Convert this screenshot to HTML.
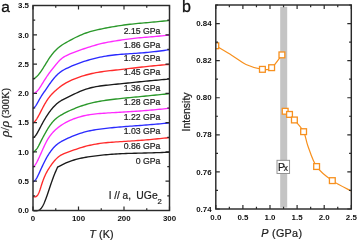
<!DOCTYPE html>
<html><head><meta charset="utf-8"><style>
html,body{margin:0;padding:0;background:#fff;width:357px;height:241px;overflow:hidden}
svg{display:block;will-change:transform}
</style></head><body>
<svg width="357" height="241" viewBox="0 0 357 241">
<path d="M33,210.64 L33.5,210.69 L34,210.73 L34.5,210.77 L35,210.79 L35.5,210.81 L36,210.8 L36.5,210.78 L37,210.74 L37.5,210.66 L38,210.56 L38.5,210.4 L39,210.19 L39.5,209.9 L40,209.53 L40.5,209.08 L41,208.55 L41.5,207.93 L42,207.21 L42.5,206.41 L43,205.52 L43.5,204.54 L44,203.47 L44.5,202.33 L45,201.11 L45.5,199.83 L46,198.49 L46.5,197.1 L47,195.68 L47.5,194.22 L48,192.75 L48.5,191.26 L49,189.77 L49.5,188.27 L50,186.78 L50.5,185.3 L51,183.83 L51.5,182.38 L52,180.96 L52.5,179.56 L53,178.19 L53.5,176.86 L54,175.56 L54.5,174.3 L55,173.07 L55.5,171.87 L56,170.7 L56.5,169.54 L57,168.41 L57.5,167.28 L57.6,167.06 L57.6,167.17 L58.1,166.9 L58.6,166.63 L59.1,166.36 L59.6,166.09 L60.1,165.82 L60.6,165.56 L61.1,165.3 L61.6,165.04 L62,164.84 L64,163.86 L66,162.94 L68,162.09 L70,161.32 L72,160.63 L74,160 L76,159.44 L78,158.92 L80,158.45 L82,158.02 L84,157.63 L86,157.26 L88,156.93 L90,156.62 L92,156.33 L94,156.06 L96,155.81 L98,155.57 L100,155.34 L102,155.13 L104,154.94 L106,154.75 L108,154.58 L110,154.42 L112,154.27 L114,154.13 L116,154 L118,153.89 L120,153.78 L122,153.69 L124,153.6 L126,153.52 L128,153.45 L130,153.39 L132,153.33 L134,153.28 L136,153.22 L138,153.17 L140,153.13 L142,153.08 L144,153.03 L146,152.98 L148,152.92 L150,152.86 L152,152.81 L154,152.74 L156,152.68 L158,152.62 L160,152.55 L162,152.49 L164,152.42 L166,152.35 L168,152.28 L169.5,152.23" stroke="#1a1a1a" stroke-width="1.35" fill="none" stroke-linejoin="round"/>
<path d="M33,196.51 L33.5,196.64 L34,196.76 L34.5,196.83 L35,196.85 L35.5,196.78 L36,196.61 L36.5,196.31 L37,195.87 L37.5,195.27 L38,194.5 L38.5,193.56 L39,192.46 L39.5,191.2 L40,189.79 L40.5,188.26 L41,186.67 L41.5,185.07 L42,183.51 L42.5,182.03 L43,180.62 L43.5,179.28 L44,178.01 L44.5,176.81 L45,175.67 L45.5,174.59 L46,173.56 L46.5,172.58 L47,171.65 L47.5,170.76 L48,169.9 L48.5,169.07 L49,168.27 L49.5,167.5 L50,166.75 L50.5,166.02 L51,165.3 L51.5,164.6 L52,163.91 L52.5,163.25 L53,162.59 L53.5,161.96 L54,161.35 L54.5,160.75 L55,160.18 L55.5,159.63 L56,159.11 L56.5,158.61 L57,158.13 L57.5,157.67 L58,157.23 L58.5,156.82 L59,156.43 L59.5,156.06 L60,155.71 L60.5,155.39 L61,155.08 L61.5,154.79 L62,154.52 L64,153.58 L66,152.82 L68,152.12 L70,151.42 L72,150.7 L74,149.98 L76,149.28 L78,148.6 L80,147.95 L82,147.33 L84,146.74 L86,146.2 L88,145.69 L90,145.23 L92,144.8 L94,144.41 L96,144.05 L98,143.73 L100,143.44 L102,143.18 L104,142.94 L106,142.73 L108,142.54 L110,142.37 L112,142.21 L114,142.06 L116,141.93 L118,141.8 L120,141.67 L122,141.55 L124,141.43 L126,141.31 L128,141.18 L130,141.06 L132,140.93 L134,140.8 L136,140.67 L138,140.53 L140,140.39 L142,140.24 L144,140.08 L146,139.91 L148,139.74 L150,139.56 L152,139.38 L154,139.19 L156,138.99 L158,138.79 L160,138.59 L162,138.38 L164,138.17 L166,137.96 L168,137.75 L169.5,137.59" stroke="#ff2a2a" stroke-width="1.35" fill="none" stroke-linejoin="round"/>
<path d="M33,181.9 L33.5,181.59 L34,181.26 L34.5,180.87 L35,180.42 L35.5,179.87 L36,179.19 L36.5,178.41 L37,177.54 L37.5,176.58 L38,175.57 L38.5,174.52 L39,173.44 L39.5,172.35 L40,171.24 L40.5,170.14 L41,169.05 L41.5,167.97 L42,166.9 L42.5,165.85 L43,164.81 L43.5,163.77 L44,162.75 L44.5,161.74 L45,160.75 L45.5,159.78 L46,158.84 L46.5,157.92 L47,157.03 L47.5,156.17 L48,155.33 L48.5,154.53 L49,153.75 L49.5,152.99 L50,152.27 L50.5,151.56 L51,150.88 L51.5,150.23 L52,149.59 L52.5,148.98 L53,148.39 L53.5,147.82 L54,147.28 L54.5,146.75 L55,146.25 L55.5,145.77 L56,145.31 L56.5,144.87 L57,144.45 L57.5,144.05 L58,143.67 L58.5,143.31 L59,142.97 L59.5,142.63 L60,142.32 L60.5,142.01 L61,141.72 L61.5,141.44 L62,141.16 L64,140.12 L66,139.13 L68,138.2 L70,137.29 L72,136.43 L74,135.6 L76,134.82 L78,134.09 L80,133.41 L82,132.78 L84,132.21 L86,131.69 L88,131.21 L90,130.78 L92,130.39 L94,130.03 L96,129.7 L98,129.39 L100,129.11 L102,128.85 L104,128.6 L106,128.36 L108,128.13 L110,127.91 L112,127.71 L114,127.51 L116,127.32 L118,127.14 L120,126.97 L122,126.8 L124,126.64 L126,126.49 L128,126.34 L130,126.19 L132,126.05 L134,125.9 L136,125.76 L138,125.62 L140,125.47 L142,125.33 L144,125.17 L146,125.02 L148,124.86 L150,124.69 L152,124.53 L154,124.35 L156,124.18 L158,124 L160,123.82 L162,123.64 L164,123.45 L166,123.27 L168,123.08 L169.5,122.94" stroke="#2a2aff" stroke-width="1.35" fill="none" stroke-linejoin="round"/>
<path d="M33,167.25 L33.5,166.76 L34,166.25 L34.5,165.7 L35,165.07 L35.5,164.36 L36,163.58 L36.5,162.72 L37,161.81 L37.5,160.85 L38,159.84 L38.5,158.81 L39,157.75 L39.5,156.67 L40,155.57 L40.5,154.46 L41,153.35 L41.5,152.22 L42,151.09 L42.5,149.97 L43,148.84 L43.5,147.73 L44,146.63 L44.5,145.55 L45,144.5 L45.5,143.49 L46,142.5 L46.5,141.55 L47,140.64 L47.5,139.77 L48,138.94 L48.5,138.14 L49,137.38 L49.5,136.65 L50,135.95 L50.5,135.28 L51,134.63 L51.5,134.01 L52,133.41 L52.5,132.84 L53,132.29 L53.5,131.76 L54,131.24 L54.5,130.74 L55,130.26 L55.5,129.8 L56,129.34 L56.5,128.9 L57,128.47 L57.5,128.06 L58,127.65 L58.5,127.26 L59,126.87 L59.5,126.5 L60,126.13 L60.5,125.77 L61,125.42 L61.5,125.08 L62,124.75 L64,123.49 L66,122.35 L68,121.31 L70,120.37 L72,119.52 L74,118.74 L76,118.02 L78,117.37 L80,116.78 L82,116.24 L84,115.76 L86,115.34 L88,114.96 L90,114.64 L92,114.35 L94,114.1 L96,113.88 L98,113.69 L100,113.52 L102,113.36 L104,113.22 L106,113.08 L108,112.95 L110,112.82 L112,112.7 L114,112.58 L116,112.46 L118,112.35 L120,112.23 L122,112.12 L124,112 L126,111.89 L128,111.77 L130,111.65 L132,111.52 L134,111.4 L136,111.27 L138,111.13 L140,110.99 L142,110.84 L144,110.69 L146,110.53 L148,110.36 L150,110.19 L152,110.01 L154,109.83 L156,109.64 L158,109.45 L160,109.25 L162,109.06 L164,108.86 L166,108.65 L168,108.45 L169.5,108.3" stroke="#ff2aff" stroke-width="1.35" fill="none" stroke-linejoin="round"/>
<path d="M33,152.46 L33.5,152.08 L34,151.69 L34.5,151.27 L35,150.83 L35.5,150.35 L36,149.81 L36.5,149.21 L37,148.54 L37.5,147.78 L38,146.95 L38.5,146.05 L39,145.1 L39.5,144.12 L40,143.11 L40.5,142.11 L41,141.11 L41.5,140.13 L42,139.17 L42.5,138.22 L43,137.28 L43.5,136.35 L44,135.43 L44.5,134.52 L45,133.61 L45.5,132.71 L46,131.83 L46.5,130.95 L47,130.1 L47.5,129.26 L48,128.45 L48.5,127.66 L49,126.89 L49.5,126.14 L50,125.42 L50.5,124.72 L51,124.05 L51.5,123.4 L52,122.78 L52.5,122.18 L53,121.6 L53.5,121.05 L54,120.52 L54.5,120.02 L55,119.54 L55.5,119.08 L56,118.64 L56.5,118.22 L57,117.82 L57.5,117.44 L58,117.07 L58.5,116.72 L59,116.39 L59.5,116.06 L60,115.74 L60.5,115.44 L61,115.13 L61.5,114.84 L62,114.55 L64,113.45 L66,112.42 L68,111.44 L70,110.51 L72,109.62 L74,108.76 L76,107.95 L78,107.18 L80,106.45 L82,105.76 L84,105.11 L86,104.51 L88,103.94 L90,103.41 L92,102.92 L94,102.46 L96,102.03 L98,101.63 L100,101.26 L102,100.91 L104,100.59 L106,100.29 L108,100.01 L110,99.74 L112,99.49 L114,99.25 L116,99.02 L118,98.8 L120,98.59 L122,98.38 L124,98.17 L126,97.97 L128,97.77 L130,97.58 L132,97.38 L134,97.19 L136,97 L138,96.8 L140,96.61 L142,96.42 L144,96.22 L146,96.03 L148,95.83 L150,95.64 L152,95.44 L154,95.24 L156,95.04 L158,94.83 L160,94.63 L162,94.43 L164,94.22 L166,94.02 L168,93.81 L169.5,93.66" stroke="#2a982a" stroke-width="1.35" fill="none" stroke-linejoin="round"/>
<path d="M33,137.91 L33.5,137.54 L34,137.15 L34.5,136.72 L35,136.23 L35.5,135.67 L36,135.02 L36.5,134.28 L37,133.48 L37.5,132.61 L38,131.7 L38.5,130.77 L39,129.82 L39.5,128.87 L40,127.91 L40.5,126.96 L41,126.01 L41.5,125.06 L42,124.13 L42.5,123.2 L43,122.29 L43.5,121.4 L44,120.53 L44.5,119.67 L45,118.83 L45.5,118.01 L46,117.2 L46.5,116.4 L47,115.63 L47.5,114.86 L48,114.11 L48.5,113.38 L49,112.66 L49.5,111.96 L50,111.28 L50.5,110.61 L51,109.96 L51.5,109.33 L52,108.72 L52.5,108.12 L53,107.54 L53.5,106.99 L54,106.45 L54.5,105.92 L55,105.42 L55.5,104.93 L56,104.47 L56.5,104.02 L57,103.58 L57.5,103.17 L58,102.77 L58.5,102.39 L59,102.03 L59.5,101.68 L60,101.34 L60.5,101.02 L61,100.71 L61.5,100.41 L62,100.12 L64,99.04 L66,98.05 L68,97.09 L70,96.12 L72,95.15 L74,94.19 L76,93.24 L78,92.32 L80,91.44 L82,90.61 L84,89.85 L86,89.16 L88,88.54 L90,87.99 L92,87.5 L94,87.06 L96,86.68 L98,86.35 L100,86.04 L102,85.77 L104,85.52 L106,85.28 L108,85.05 L110,84.84 L112,84.63 L114,84.43 L116,84.24 L118,84.04 L120,83.84 L122,83.64 L124,83.44 L126,83.24 L128,83.03 L130,82.82 L132,82.61 L134,82.41 L136,82.2 L138,81.99 L140,81.78 L142,81.58 L144,81.38 L146,81.18 L148,80.99 L150,80.79 L152,80.6 L154,80.42 L156,80.23 L158,80.05 L160,79.86 L162,79.68 L164,79.5 L166,79.32 L168,79.14 L169.5,79.01" stroke="#1a1a1a" stroke-width="1.35" fill="none" stroke-linejoin="round"/>
<path d="M33,123.24 L33.5,122.79 L34,122.33 L34.5,121.84 L35,121.3 L35.5,120.69 L36,120.03 L36.5,119.3 L37,118.52 L37.5,117.7 L38,116.84 L38.5,115.94 L39,115.02 L39.5,114.07 L40,113.11 L40.5,112.14 L41,111.16 L41.5,110.17 L42,109.19 L42.5,108.22 L43,107.27 L43.5,106.33 L44,105.42 L44.5,104.52 L45,103.65 L45.5,102.8 L46,101.98 L46.5,101.18 L47,100.4 L47.5,99.65 L48,98.93 L48.5,98.23 L49,97.56 L49.5,96.91 L50,96.29 L50.5,95.69 L51,95.11 L51.5,94.55 L52,94.02 L52.5,93.5 L53,92.99 L53.5,92.5 L54,92.02 L54.5,91.56 L55,91.1 L55.5,90.65 L56,90.2 L56.5,89.76 L57,89.33 L57.5,88.9 L58,88.48 L58.5,88.06 L59,87.66 L59.5,87.26 L60,86.87 L60.5,86.49 L61,86.12 L61.5,85.76 L62,85.41 L64,84.12 L66,82.95 L68,81.89 L70,80.9 L72,79.98 L74,79.12 L76,78.32 L78,77.56 L80,76.86 L82,76.2 L84,75.59 L86,75.02 L88,74.49 L90,73.99 L92,73.53 L94,73.1 L96,72.71 L98,72.35 L100,72.02 L102,71.71 L104,71.43 L106,71.16 L108,70.92 L110,70.68 L112,70.46 L114,70.24 L116,70.02 L118,69.81 L120,69.59 L122,69.37 L124,69.14 L126,68.91 L128,68.68 L130,68.44 L132,68.21 L134,67.97 L136,67.73 L138,67.5 L140,67.27 L142,67.04 L144,66.82 L146,66.6 L148,66.39 L150,66.18 L152,65.98 L154,65.79 L156,65.6 L158,65.41 L160,65.22 L162,65.04 L164,64.86 L166,64.68 L168,64.5 L169.5,64.37" stroke="#ff2a2a" stroke-width="1.35" fill="none" stroke-linejoin="round"/>
<path d="M33,108.61 L33.5,108.17 L34,107.72 L34.5,107.23 L35,106.68 L35.5,106.07 L36,105.37 L36.5,104.6 L37,103.76 L37.5,102.88 L38,101.97 L38.5,101.06 L39,100.14 L39.5,99.26 L40,98.4 L40.5,97.57 L41,96.76 L41.5,95.97 L42,95.19 L42.5,94.44 L43,93.69 L43.5,92.96 L44,92.23 L44.5,91.5 L45,90.78 L45.5,90.05 L46,89.32 L46.5,88.58 L47,87.85 L47.5,87.11 L48,86.38 L48.5,85.65 L49,84.93 L49.5,84.21 L50,83.5 L50.5,82.8 L51,82.11 L51.5,81.44 L52,80.77 L52.5,80.12 L53,79.48 L53.5,78.86 L54,78.25 L54.5,77.66 L55,77.09 L55.5,76.54 L56,76 L56.5,75.48 L57,74.98 L57.5,74.5 L58,74.03 L58.5,73.58 L59,73.15 L59.5,72.74 L60,72.34 L60.5,71.96 L61,71.6 L61.5,71.26 L62,70.92 L64,69.73 L66,68.7 L68,67.77 L70,66.86 L72,65.99 L74,65.14 L76,64.33 L78,63.56 L80,62.82 L82,62.13 L84,61.47 L86,60.84 L88,60.24 L90,59.67 L92,59.13 L94,58.61 L96,58.11 L98,57.65 L100,57.21 L102,56.8 L104,56.42 L106,56.07 L108,55.75 L110,55.46 L112,55.21 L114,54.98 L116,54.77 L118,54.58 L120,54.41 L122,54.25 L124,54.1 L126,53.96 L128,53.83 L130,53.7 L132,53.57 L134,53.44 L136,53.31 L138,53.17 L140,53.03 L142,52.87 L144,52.71 L146,52.53 L148,52.34 L150,52.14 L152,51.92 L154,51.7 L156,51.46 L158,51.22 L160,50.97 L162,50.72 L164,50.46 L166,50.19 L168,49.93 L169.5,49.73" stroke="#2a2aff" stroke-width="1.35" fill="none" stroke-linejoin="round"/>
<path d="M33,93.84 L33.5,93.58 L34,93.31 L34.5,93.03 L35,92.73 L35.5,92.41 L36,92.05 L36.5,91.64 L37,91.2 L37.5,90.7 L38,90.13 L38.5,89.52 L39,88.85 L39.5,88.14 L40,87.4 L40.5,86.63 L41,85.83 L41.5,85.02 L42,84.2 L42.5,83.38 L43,82.56 L43.5,81.74 L44,80.92 L44.5,80.12 L45,79.32 L45.5,78.53 L46,77.76 L46.5,77 L47,76.25 L47.5,75.52 L48,74.81 L48.5,74.11 L49,73.42 L49.5,72.74 L50,72.07 L50.5,71.41 L51,70.76 L51.5,70.12 L52,69.49 L52.5,68.86 L53,68.23 L53.5,67.6 L54,66.98 L54.5,66.36 L55,65.74 L55.5,65.12 L56,64.51 L56.5,63.91 L57,63.31 L57.5,62.72 L58,62.15 L58.5,61.6 L59,61.06 L59.5,60.54 L60,60.05 L60.5,59.58 L61,59.14 L61.5,58.72 L62,58.32 L64,56.92 L66,55.77 L68,54.79 L70,53.91 L72,53.08 L74,52.31 L76,51.56 L78,50.84 L80,50.13 L82,49.43 L84,48.74 L86,48.07 L88,47.41 L90,46.77 L92,46.15 L94,45.55 L96,44.98 L98,44.43 L100,43.92 L102,43.44 L104,42.99 L106,42.57 L108,42.18 L110,41.81 L112,41.47 L114,41.14 L116,40.82 L118,40.52 L120,40.22 L122,39.92 L124,39.63 L126,39.35 L128,39.08 L130,38.82 L132,38.58 L134,38.35 L136,38.14 L138,37.94 L140,37.76 L142,37.59 L144,37.43 L146,37.27 L148,37.11 L150,36.95 L152,36.78 L154,36.6 L156,36.42 L158,36.23 L160,36.04 L162,35.84 L164,35.65 L166,35.44 L168,35.24 L169.5,35.09" stroke="#ff2aff" stroke-width="1.35" fill="none" stroke-linejoin="round"/>
<path d="M33,79.18 L33.5,78.88 L34,78.57 L34.5,78.25 L35,77.91 L35.5,77.54 L36,77.15 L36.5,76.72 L37,76.25 L37.5,75.74 L38,75.2 L38.5,74.63 L39,74.03 L39.5,73.39 L40,72.73 L40.5,72.04 L41,71.32 L41.5,70.59 L42,69.84 L42.5,69.08 L43,68.3 L43.5,67.51 L44,66.72 L44.5,65.91 L45,65.1 L45.5,64.29 L46,63.47 L46.5,62.66 L47,61.85 L47.5,61.05 L48,60.25 L48.5,59.47 L49,58.7 L49.5,57.95 L50,57.21 L50.5,56.5 L51,55.81 L51.5,55.14 L52,54.48 L52.5,53.85 L53,53.23 L53.5,52.63 L54,52.06 L54.5,51.5 L55,50.95 L55.5,50.43 L56,49.93 L56.5,49.44 L57,48.97 L57.5,48.51 L58,48.07 L58.5,47.65 L59,47.24 L59.5,46.84 L60,46.46 L60.5,46.08 L61,45.72 L61.5,45.38 L62,45.04 L64,43.77 L66,42.6 L68,41.49 L70,40.39 L72,39.31 L74,38.26 L76,37.25 L78,36.28 L80,35.37 L82,34.52 L84,33.73 L86,33 L88,32.33 L90,31.71 L92,31.13 L94,30.6 L96,30.11 L98,29.65 L100,29.22 L102,28.81 L104,28.4 L106,28.01 L108,27.63 L110,27.27 L112,26.91 L114,26.57 L116,26.23 L118,25.92 L120,25.61 L122,25.32 L124,25.04 L126,24.78 L128,24.52 L130,24.28 L132,24.05 L134,23.84 L136,23.63 L138,23.43 L140,23.25 L142,23.07 L144,22.9 L146,22.72 L148,22.55 L150,22.38 L152,22.2 L154,22.01 L156,21.82 L158,21.62 L160,21.42 L162,21.22 L164,21.01 L166,20.81 L168,20.6 L169.5,20.44" stroke="#2a982a" stroke-width="1.35" fill="none" stroke-linejoin="round"/>
<rect x="33" y="5.5" width="136.5" height="205" fill="none" stroke="#2a2a2a" stroke-width="1.45"/>
<path d="M33,210.5 h4 M169.5,210.5 h-4 M33,195.86 h2.2 M169.5,195.86 h-2.2 M33,181.21 h4 M169.5,181.21 h-4 M33,166.57 h2.2 M169.5,166.57 h-2.2 M33,151.93 h4 M169.5,151.93 h-4 M33,137.29 h2.2 M169.5,137.29 h-2.2 M33,122.64 h4 M169.5,122.64 h-4 M33,108 h2.2 M169.5,108 h-2.2 M33,93.36 h4 M169.5,93.36 h-4 M33,78.71 h2.2 M169.5,78.71 h-2.2 M33,64.07 h4 M169.5,64.07 h-4 M33,49.43 h2.2 M169.5,49.43 h-2.2 M33,34.79 h4 M169.5,34.79 h-4 M33,20.14 h2.2 M169.5,20.14 h-2.2 M33,5.5 h4 M169.5,5.5 h-4 M33,210.5 v-4 M33,5.5 v4 M55.75,210.5 v-2.2 M55.75,5.5 v2.2 M78.5,210.5 v-4 M78.5,5.5 v4 M101.25,210.5 v-2.2 M101.25,5.5 v2.2 M124,210.5 v-4 M124,5.5 v4 M146.75,210.5 v-2.2 M146.75,5.5 v2.2 M169.5,210.5 v-4 M169.5,5.5 v4" stroke="#2a2a2a" stroke-width="1.2" fill="none"/>
<text transform="translate(29,213.25) scale(0.98,1)" text-anchor="end" font-family="Liberation Sans" font-weight="bold" font-size="8.1" fill="#111">0.0</text>
<text transform="translate(29,183.96) scale(0.98,1)" text-anchor="end" font-family="Liberation Sans" font-weight="bold" font-size="8.1" fill="#111">0.5</text>
<text transform="translate(29,154.68) scale(0.98,1)" text-anchor="end" font-family="Liberation Sans" font-weight="bold" font-size="8.1" fill="#111">1.0</text>
<text transform="translate(29,125.39) scale(0.98,1)" text-anchor="end" font-family="Liberation Sans" font-weight="bold" font-size="8.1" fill="#111">1.5</text>
<text transform="translate(29,96.11) scale(0.98,1)" text-anchor="end" font-family="Liberation Sans" font-weight="bold" font-size="8.1" fill="#111">2.0</text>
<text transform="translate(29,66.82) scale(0.98,1)" text-anchor="end" font-family="Liberation Sans" font-weight="bold" font-size="8.1" fill="#111">2.5</text>
<text transform="translate(29,37.54) scale(0.98,1)" text-anchor="end" font-family="Liberation Sans" font-weight="bold" font-size="8.1" fill="#111">3.0</text>
<text transform="translate(29,8.25) scale(0.98,1)" text-anchor="end" font-family="Liberation Sans" font-weight="bold" font-size="8.1" fill="#111">3.5</text>
<text transform="translate(33,221.3) scale(0.98,1)" text-anchor="middle" font-family="Liberation Sans" font-weight="bold" font-size="8.1" fill="#111">0</text>
<text transform="translate(78.5,221.3) scale(0.98,1)" text-anchor="middle" font-family="Liberation Sans" font-weight="bold" font-size="8.1" fill="#111">100</text>
<text transform="translate(124,221.3) scale(0.98,1)" text-anchor="middle" font-family="Liberation Sans" font-weight="bold" font-size="8.1" fill="#111">200</text>
<text transform="translate(169.5,221.3) scale(0.98,1)" text-anchor="middle" font-family="Liberation Sans" font-weight="bold" font-size="8.1" fill="#111">300</text>
<text x="160.4" y="164" text-anchor="end" font-family="Liberation Sans" font-size="8.7" fill="#1e1e1e" stroke="#1e1e1e" stroke-width="0.22">0 GPa</text>
<text x="160.4" y="148.6" text-anchor="end" font-family="Liberation Sans" font-size="8.7" fill="#1e1e1e" stroke="#1e1e1e" stroke-width="0.22">0.86 GPa</text>
<text x="160.4" y="133.8" text-anchor="end" font-family="Liberation Sans" font-size="8.7" fill="#1e1e1e" stroke="#1e1e1e" stroke-width="0.22">1.03 GPa</text>
<text x="160.4" y="119.5" text-anchor="end" font-family="Liberation Sans" font-size="8.7" fill="#1e1e1e" stroke="#1e1e1e" stroke-width="0.22">1.22 GPa</text>
<text x="160.4" y="104.6" text-anchor="end" font-family="Liberation Sans" font-size="8.7" fill="#1e1e1e" stroke="#1e1e1e" stroke-width="0.22">1.28 GPa</text>
<text x="160.4" y="91" text-anchor="end" font-family="Liberation Sans" font-size="8.7" fill="#1e1e1e" stroke="#1e1e1e" stroke-width="0.22">1.36 GPa</text>
<text x="160.4" y="74.8" text-anchor="end" font-family="Liberation Sans" font-size="8.7" fill="#1e1e1e" stroke="#1e1e1e" stroke-width="0.22">1.45 GPa</text>
<text x="160.4" y="60.7" text-anchor="end" font-family="Liberation Sans" font-size="8.7" fill="#1e1e1e" stroke="#1e1e1e" stroke-width="0.22">1.62 GPa</text>
<text x="160.4" y="47.5" text-anchor="end" font-family="Liberation Sans" font-size="8.7" fill="#1e1e1e" stroke="#1e1e1e" stroke-width="0.22">1.86 GPa</text>
<text x="160.4" y="33.6" text-anchor="end" font-family="Liberation Sans" font-size="8.7" fill="#1e1e1e" stroke="#1e1e1e" stroke-width="0.22">2.15 GPa</text>
<text x="108.7" y="199.3" font-family="Liberation Sans" font-size="10" fill="#1e1e1e" stroke="#1e1e1e" stroke-width="0.22">I // a,</text>
<text x="136.3" y="199.4" font-family="Liberation Sans" font-size="10.4" fill="#1e1e1e" stroke="#1e1e1e" stroke-width="0.22">UGe</text>
<text x="157.4" y="203.6" font-family="Liberation Sans" font-size="7.6" fill="#1e1e1e" stroke="#1e1e1e" stroke-width="0.22">2</text>
<text x="1.2" y="11.6" font-family="Liberation Sans" font-size="15.5" fill="#111" stroke="#111" stroke-width="0.3">a</text>
<text x="89.3" y="238" font-family="Liberation Sans" font-size="10.8" fill="#1e1e1e" stroke="#1e1e1e" stroke-width="0.22" letter-spacing="0.1"><tspan font-style="italic">T</tspan> (K)</text>
<text transform="translate(8.8,137) rotate(-90)" font-family="Liberation Serif" font-size="10.4" fill="#1e1e1e" stroke="#1e1e1e" stroke-width="0.22"><tspan font-style="italic" font-size="13.5">&#961;</tspan><tspan font-size="12">/</tspan><tspan font-style="italic" font-size="13.5">&#961;</tspan> (300K)</text>
<rect x="280.2" y="6.8" width="7" height="200.8" fill="#c4c4c4"/>
<clipPath id="rc"><rect x="215.8" y="5" width="135.5" height="204"/></clipPath>
<g clip-path="url(#rc)">
<path d="M215.8,45.8 C218.5,47.42 226.97,52.38 232,55.5 C237.03,58.62 240.93,62.19 246,64.5 C251.07,66.81 258.14,68.82 262.41,69.35 C266.68,69.88 268.37,70.09 271.63,67.68 C274.88,65.27 280.21,57.02 281.92,54.89" stroke="#f7901e" stroke-width="1.2" fill="none"/>
<path d="M285.18,111.27 C285.9,111.79 287.98,112.97 289.51,114.42 C291.05,115.87 292.04,117.11 294.39,119.98 C296.74,122.86 301.35,127.33 303.6,131.67 C305.86,136 305.73,140.19 307.9,146 C310.07,151.81 312.54,160.76 316.61,166.53 C320.68,172.3 326.55,176.55 332.33,180.63 C338.11,184.71 348.14,189.28 351.3,191.01" stroke="#f7901e" stroke-width="1.2" fill="none"/>
<rect x="212.9" y="42.9" width="5.8" height="5.8" fill="#fff" stroke="#f7901e" stroke-width="1.3"/>
<rect x="259.51" y="66.45" width="5.8" height="5.8" fill="#fff" stroke="#f7901e" stroke-width="1.3"/>
<rect x="268.73" y="64.78" width="5.8" height="5.8" fill="#fff" stroke="#f7901e" stroke-width="1.3"/>
<rect x="279.02" y="51.99" width="5.8" height="5.8" fill="#fff" stroke="#f7901e" stroke-width="1.3"/>
<rect x="282.28" y="108.37" width="5.8" height="5.8" fill="#fff" stroke="#f7901e" stroke-width="1.3"/>
<rect x="286.61" y="111.52" width="5.8" height="5.8" fill="#fff" stroke="#f7901e" stroke-width="1.3"/>
<rect x="291.49" y="117.08" width="5.8" height="5.8" fill="#fff" stroke="#f7901e" stroke-width="1.3"/>
<rect x="300.7" y="128.77" width="5.8" height="5.8" fill="#fff" stroke="#f7901e" stroke-width="1.3"/>
<rect x="313.71" y="163.63" width="5.8" height="5.8" fill="#fff" stroke="#f7901e" stroke-width="1.3"/>
<rect x="329.43" y="177.73" width="5.8" height="5.8" fill="#fff" stroke="#f7901e" stroke-width="1.3"/>
</g>
<rect x="277" y="160.3" width="12.6" height="13.2" fill="#fff" stroke="#8a8a8a" stroke-width="0.9"/>
<text x="277.9" y="170.8" font-family="Liberation Sans" font-size="10.3" fill="#1e1e1e" stroke="#1e1e1e" stroke-width="0.22">P<tspan font-size="8.3" dx="-1.1">x</tspan></text>
<rect x="215.8" y="5" width="135.5" height="204" fill="none" stroke="#2a2a2a" stroke-width="1.45"/>
<path d="M215.8,209 h4 M351.3,209 h-4 M215.8,190.45 h2.2 M351.3,190.45 h-2.2 M215.8,171.91 h4 M351.3,171.91 h-4 M215.8,153.36 h2.2 M351.3,153.36 h-2.2 M215.8,134.82 h4 M351.3,134.82 h-4 M215.8,116.27 h2.2 M351.3,116.27 h-2.2 M215.8,97.73 h4 M351.3,97.73 h-4 M215.8,79.18 h2.2 M351.3,79.18 h-2.2 M215.8,60.64 h4 M351.3,60.64 h-4 M215.8,42.09 h2.2 M351.3,42.09 h-2.2 M215.8,23.55 h4 M351.3,23.55 h-4 M215.8,5 h2.2 M351.3,5 h-2.2 M215.8,209 v-4 M215.8,5 v4 M229.35,209 v-2.2 M229.35,5 v2.2 M242.9,209 v-4 M242.9,5 v4 M256.45,209 v-2.2 M256.45,5 v2.2 M270,209 v-4 M270,5 v4 M283.55,209 v-2.2 M283.55,5 v2.2 M297.1,209 v-4 M297.1,5 v4 M310.65,209 v-2.2 M310.65,5 v2.2 M324.2,209 v-4 M324.2,5 v4 M337.75,209 v-2.2 M337.75,5 v2.2 M351.3,209 v-4 M351.3,5 v4" stroke="#2a2a2a" stroke-width="1.2" fill="none"/>
<text transform="translate(211.6,211.6) scale(0.98,1)" text-anchor="end" font-family="Liberation Sans" font-weight="bold" font-size="8.1" fill="#111">0.74</text>
<text transform="translate(211.6,174.51) scale(0.98,1)" text-anchor="end" font-family="Liberation Sans" font-weight="bold" font-size="8.1" fill="#111">0.76</text>
<text transform="translate(211.6,137.42) scale(0.98,1)" text-anchor="end" font-family="Liberation Sans" font-weight="bold" font-size="8.1" fill="#111">0.78</text>
<text transform="translate(211.6,100.33) scale(0.98,1)" text-anchor="end" font-family="Liberation Sans" font-weight="bold" font-size="8.1" fill="#111">0.80</text>
<text transform="translate(211.6,63.24) scale(0.98,1)" text-anchor="end" font-family="Liberation Sans" font-weight="bold" font-size="8.1" fill="#111">0.82</text>
<text transform="translate(211.6,26.15) scale(0.98,1)" text-anchor="end" font-family="Liberation Sans" font-weight="bold" font-size="8.1" fill="#111">0.84</text>
<text transform="translate(215.8,220.1) scale(0.98,1)" text-anchor="middle" font-family="Liberation Sans" font-weight="bold" font-size="8.1" fill="#111">0.0</text>
<text transform="translate(242.9,220.1) scale(0.98,1)" text-anchor="middle" font-family="Liberation Sans" font-weight="bold" font-size="8.1" fill="#111">0.5</text>
<text transform="translate(270,220.1) scale(0.98,1)" text-anchor="middle" font-family="Liberation Sans" font-weight="bold" font-size="8.1" fill="#111">1.0</text>
<text transform="translate(297.1,220.1) scale(0.98,1)" text-anchor="middle" font-family="Liberation Sans" font-weight="bold" font-size="8.1" fill="#111">1.5</text>
<text transform="translate(324.2,220.1) scale(0.98,1)" text-anchor="middle" font-family="Liberation Sans" font-weight="bold" font-size="8.1" fill="#111">2.0</text>
<text transform="translate(351.3,220.1) scale(0.98,1)" text-anchor="middle" font-family="Liberation Sans" font-weight="bold" font-size="8.1" fill="#111">2.5</text>
<text x="182" y="2" font-family="Liberation Sans" font-size="14" fill="#111"></text>
<text x="181.9" y="11.7" font-family="Liberation Sans" font-size="16" fill="#111" stroke="#111" stroke-width="0.3">b</text>
<text x="261.2" y="237" font-family="Liberation Sans" font-size="10.8" fill="#1e1e1e" stroke="#1e1e1e" stroke-width="0.22" letter-spacing="0.3"><tspan font-style="italic">P</tspan> (GPa)</text>
<text transform="translate(189.6,131.5) rotate(-90)" font-family="Liberation Sans" font-size="10.5" fill="#1e1e1e" stroke="#1e1e1e" stroke-width="0.22">Intensity</text>
</svg></body></html>
